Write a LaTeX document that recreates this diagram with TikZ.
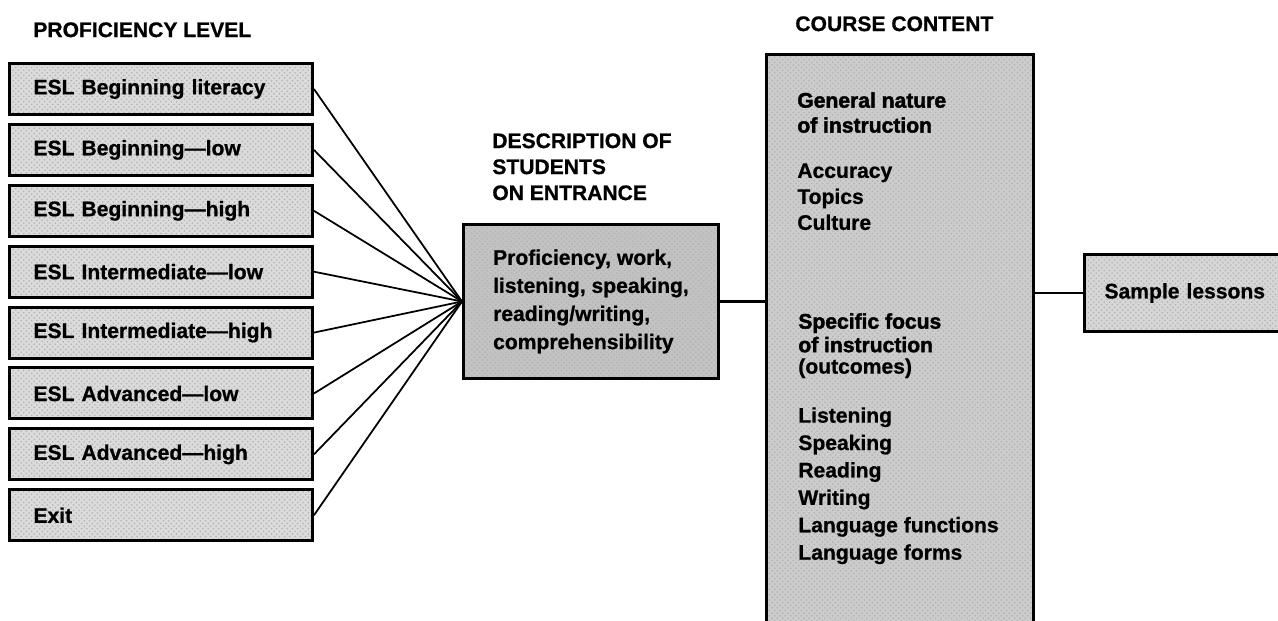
\documentclass[tikz,border=0pt]{standalone}
\usepackage{fontspec}
\setmainfont{Liberation Sans}[BoldFeatures={FakeBold=0.8}]
\newfontfamily\heavyfont{Liberation Sans}[BoldFeatures={FakeBold=2}]
\usetikzlibrary{patterns}

\begin{document}
\begin{tikzpicture}[x=0.02cm,y=-0.02cm,
    every node/.style={font=\fontsize{12}{15.5}\selectfont\bfseries},
    grainy/.style={draw,line width=0.06cm,preaction={fill=black!#1},
      pattern=crosshatch dots,pattern color=black!30},
    lvlbox/.style={grainy=14,anchor=north west,minimum width=6.06cm,minimum height=1.02cm,
      inner xsep=0.48cm,text width=5.10cm,align=left},
    fan/.style={line width=1pt},
    link/.style={line width=1.3pt},
    heading/.style={anchor=north west,inner sep=0pt,align=left}]
  \useasboundingbox (0,0) rectangle (1278,621);

  % column titles
  \node[heading] (lvltitle) at (33,22) {PROFICIENCY LEVEL};
  \node[heading,font=\fontsize{12}{14.8}\selectfont\bfseries] (desctitle) at (492,133)
    {DESCRIPTION OF\\STUDENTS\\ON ENTRANCE};
  \node[heading] (cctitle) at (795,16) {COURSE CONTENT};

  % proficiency levels
  \foreach \lbl [count=\i] in {ESL Beginning literacy,ESL Beginning—low,ESL Beginning—high,
      ESL Intermediate—low,ESL Intermediate—high,ESL Advanced—low,ESL Advanced—high,Exit}
    \node[lvlbox] (lvl\i) at (8,{62+60.9*(\i-1)}) {\lbl};

  \node[grainy=24,anchor=north west,minimum width=5.10cm,minimum height=3.08cm,
    align=left,font=\fontsize{12}{16}\selectfont\bfseries] (desc) at (462,223)
    {Proficiency, work,\\listening, speaking,\\reading/writing,\\comprehensibility};

  \foreach \i in {1,...,8}
    \draw[fan] (lvl\i.east) -- (desc.west);

  % course content column, runs off the bottom
  \node[grainy=20,anchor=north west,minimum width=5.34cm,minimum height=12.54cm]
    (course) at (765,53) {};
  \node[heading,font=\fontsize{12}{14.2}\selectfont\heavyfont\bfseries] (genhead) at (797,92)
    {General nature\\of instruction};
  \node[heading,font=\fontsize{12}{14.8}\selectfont\bfseries] (genlist) at (797,163)
    {Accuracy\\Topics\\Culture};
  \node[heading,font=\fontsize{12}{13.4}\selectfont\heavyfont\bfseries] (spechead) at (798,313)
    {Specific focus\\of instruction};
  \node[heading,font=\fontsize{12}{13.4}\selectfont\bfseries,anchor=north west] (outcomes)
    at (798,358) {(outcomes)};
  \node[heading,font=\fontsize{12}{15.6}\selectfont\bfseries] (speclist) at (798,407)
    {Listening\\Speaking\\Reading\\Writing\\Language functions\\Language forms};

  \node[grainy=16,anchor=north west,minimum width=4.4cm,minimum height=1.54cm,
    inner xsep=0.4cm,text width=3.6cm,align=left] (sample) at (1083,253) {Sample lessons};

  \draw[link] (desc.east) -- (desc.east -| course.west);
  \draw[link] (course.east |- sample.west) -- (sample.west);
\end{tikzpicture}
\end{document}
